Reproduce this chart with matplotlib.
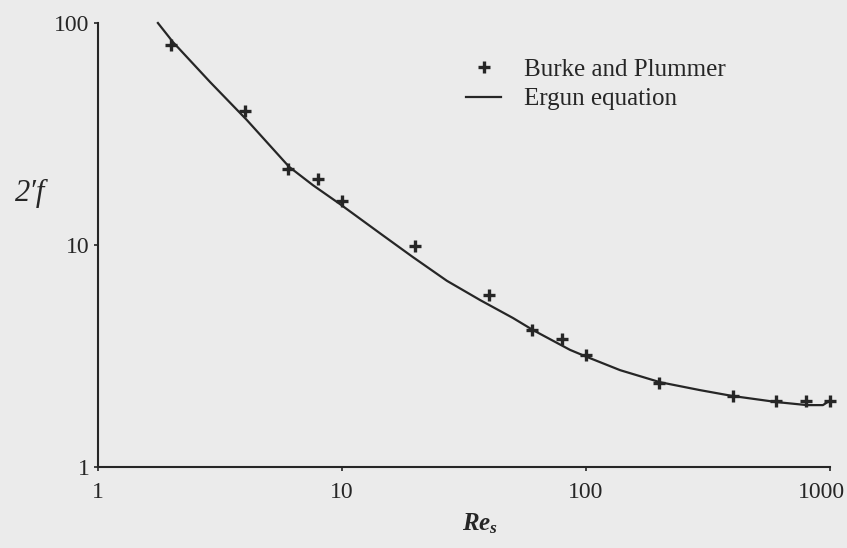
import matplotlib
matplotlib.use("Agg")
import matplotlib.pyplot as plt
import matplotlib.transforms as mtransforms
from matplotlib.ticker import FixedLocator, FixedFormatter, NullLocator

# Burke and Plummer data
re_data = [2, 4, 6, 8, 10, 20, 40, 60, 80, 100, 200, 400, 600, 800, 1000]
f_data = [80, 40, 22, 19.8, 15.8, 9.9, 5.95, 4.14, 3.77, 3.19, 2.39, 2.09, 1.98, 1.98, 1.98]

# Ergun equation curve
re_curve = [1.76, 2.03, 2.88, 4.07, 6.07, 7.6, 9.8, 14.3, 19.5, 26.9, 36.8, 50.2,
            60.6, 86, 101, 138, 201, 293, 397, 607, 805, 935, 991]
f_curve = [100, 82, 54.2, 36.6, 22.5, 18.6, 15.3, 11.3, 8.83, 6.9, 5.65, 4.69,
           4.14, 3.37, 3.13, 2.73, 2.41, 2.22, 2.09, 1.96, 1.90, 1.90, 1.98]

x_ticks = [1, 10, 100, 1000]
y_ticks = [1, 10, 100]

bg = "#ebebeb"
ink = "#262626"

plt.rcParams["font.family"] = ["Liberation Serif", "DejaVu Serif"]
plt.rcParams["mathtext.fontset"] = "custom"
plt.rcParams["mathtext.rm"] = "Liberation Serif"
plt.rcParams["mathtext.it"] = "Liberation Serif:italic:bold"

fig = plt.figure(figsize=(8.47, 5.48), dpi=100, facecolor=bg)
ax = fig.add_axes([98 / 847, 1 - 467 / 548, 732 / 847, 444 / 548])
ax.set_facecolor(bg)

ax.plot(re_curve, f_curve, color=ink, lw=1.6, label="Ergun equation", clip_on=False)
ax.plot(re_data, f_data, ls="none", marker="+", ms=9, mew=2.4, color=ink,
        label="Burke and Plummer", clip_on=False, zorder=3)

ax.set_xscale("log")
ax.set_yscale("log")
ax.set_xlim(1, 1000)
ax.set_ylim(1, 100)

ax.xaxis.set_major_locator(FixedLocator(x_ticks))
ax.xaxis.set_major_formatter(FixedFormatter([str(v) for v in x_ticks]))
ax.yaxis.set_major_locator(FixedLocator(y_ticks))
ax.yaxis.set_major_formatter(FixedFormatter([str(v) for v in y_ticks]))
ax.xaxis.set_minor_locator(NullLocator())
ax.yaxis.set_minor_locator(NullLocator())

for s in ["top", "right"]:
    ax.spines[s].set_visible(False)
for s in ["left", "bottom"]:
    ax.spines[s].set_color(ink)
    ax.spines[s].set_linewidth(1.5)

ax.tick_params(axis="x", direction="out", length=3, width=1.2, colors=ink,
               labelsize=17, pad=8)
ax.tick_params(axis="y", direction="out", length=3, width=1.2, colors=ink,
               labelsize=17, pad=3)

# last x label sits a little left of its tick, as in the original
fig.canvas.draw()
last = ax.get_xticklabels()[-1]
last.set_transform(last.get_transform() +
                   mtransforms.ScaledTranslation(-9 / 100, 0, fig.dpi_scale_trans))

fig.text(480 / 847, 1 - 524 / 548, r"$Re_s$", fontsize=18, color=ink,
         ha="center", va="center")
fig.text(30 / 847, 1 - 193 / 548, "2\u2032f", fontsize=22, style="italic",
         color=ink, ha="center", va="center")

handles, labels = ax.get_legend_handles_labels()
leg = ax.legend(handles[::-1], labels[::-1], loc="upper left",
                bbox_to_anchor=(466 / 847, 1 - 58 / 548),
                bbox_transform=fig.transFigure, frameon=False, fontsize=18,
                handlelength=1.4, handletextpad=0.9, labelspacing=0.3,
                borderpad=0, borderaxespad=0)
for t in leg.get_texts():
    t.set_color(ink)

fig.savefig("out.png", dpi=100, facecolor=bg)
